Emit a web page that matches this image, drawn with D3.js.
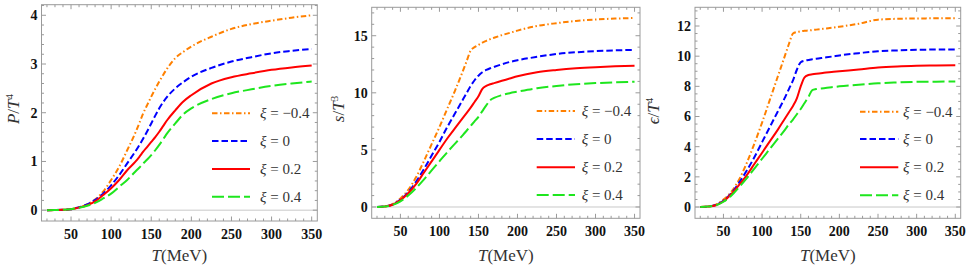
<!DOCTYPE html>
<html><head><meta charset="utf-8">
<script src="https://cdn.jsdelivr.net/npm/d3@7"></script>
<style>
html,body{margin:0;padding:0;background:#fff;}
svg{display:block;}
text{font-family:"Liberation Serif","Times New Roman",serif;}
</style></head>
<body>
<svg id="chart" width="969" height="277"></svg>
<script>
// ---------- DATA ----------
const temps = [20,30,40,50,60,70,80,90,100,110,120,130,135,140,145,150,155,160,165,170,180,190,200,225,250,275,300,325,350];
const seriesNames = ["−0.4","0","0.2","0.4"];

const pressure_m04 = [0,0.002,0.008,0.02,0.055,0.12,0.22,0.38,0.62,0.89,1.23,1.58,1.78,1.99,2.16,2.33,2.49,2.64,2.78,2.91,3.12,3.25,3.36,3.56,3.72,3.82,3.89,3.95,4.0];
const pressure_0   = [0,0.002,0.007,0.02,0.06,0.12,0.21,0.34,0.51,0.72,0.96,1.20,1.33,1.47,1.62,1.78,1.94,2.09,2.22,2.33,2.50,2.63,2.74,2.92,3.05,3.14,3.22,3.27,3.31];
const pressure_02  = [0,0.002,0.007,0.02,0.055,0.10,0.18,0.31,0.45,0.62,0.82,0.99,1.09,1.20,1.30,1.40,1.50,1.61,1.73,1.85,2.05,2.23,2.36,2.60,2.73,2.81,2.88,2.93,2.97];
const pressure_04  = [0,0.002,0.007,0.02,0.05,0.09,0.15,0.24,0.34,0.48,0.62,0.79,0.87,0.96,1.04,1.13,1.23,1.34,1.46,1.58,1.78,1.97,2.09,2.28,2.40,2.48,2.55,2.60,2.64];

const entropy_m04 = [0,0.05,0.25,0.75,1.5,2.6,4.0,5.5,7.0,8.6,10.2,11.9,12.8,13.7,14.0,14.2,14.4,14.55,14.7,14.82,15.05,15.25,15.45,15.85,16.1,16.3,16.42,16.5,16.55];
const entropy_0   = [0,0.05,0.22,0.65,1.3,2.2,3.3,4.5,5.7,7.0,8.2,9.4,10.0,10.6,11.1,11.5,11.8,12.0,12.15,12.27,12.5,12.7,12.85,13.15,13.4,13.55,13.65,13.72,13.75];
const entropy_02  = [0,0.05,0.2,0.6,1.2,2.0,3.0,4.0,5.0,6.0,6.9,7.8,8.25,8.7,9.2,9.7,10.35,10.6,10.75,10.85,11.05,11.25,11.45,11.8,12.0,12.15,12.25,12.32,12.37];
const entropy_04  = [0,0.04,0.18,0.5,1.0,1.65,2.4,3.2,4.0,4.8,5.55,6.3,6.7,7.1,7.5,7.9,8.4,8.9,9.35,9.55,9.8,9.97,10.1,10.4,10.6,10.75,10.85,10.92,10.97];

const energy_m04 = [0,0.03,0.15,0.5,1.0,1.8,2.9,4.2,5.6,7.1,8.6,10.1,10.85,11.5,11.6,11.65,11.68,11.7,11.73,11.76,11.82,11.88,11.95,12.15,12.42,12.48,12.5,12.51,12.52];
const energy_0   = [0,0.03,0.13,0.42,0.9,1.6,2.4,3.3,4.3,5.3,6.3,7.3,7.85,8.4,9.1,9.6,9.7,9.75,9.8,9.83,9.9,9.97,10.05,10.2,10.33,10.38,10.42,10.44,10.45];
const energy_02  = [0,0.03,0.12,0.38,0.85,1.45,2.1,2.85,3.6,4.35,5.1,5.9,6.3,6.7,7.2,8.0,8.6,8.75,8.8,8.84,8.9,8.95,9.0,9.12,9.25,9.32,9.36,9.38,9.4];
const energy_04  = [0,0.03,0.11,0.35,0.75,1.3,1.9,2.55,3.2,3.85,4.5,5.15,5.5,5.8,6.15,6.5,6.9,7.3,7.75,7.82,7.88,7.94,8.0,8.1,8.2,8.26,8.3,8.31,8.32];

const xTicks = [50,100,150,200,250,300,350];
const yTicksP = [0,1,2,3,4];
const yTicksS = [0,5,10,15];
const yTicksE = [0,2,4,6,8,10,12];

// ---------- STYLE ----------
const colors = ["#ff8000","#0000ff","#ff0000","#1ee61e"];
const dashes = ["5.5,2.5,1.5,2.5","6.5,3","","12,4"];

const panels = [
  {series:[pressure_m04,pressure_0,pressure_02,pressure_04], ticks:yTicksP, minor:0.2,
   frame:{x0:41.5,x1:317.3,y0:4.7,y1:221}, ydom:[-0.222,4.217],
   ylab:{x:13,y:109,parts:[["P","italic"],["/",""],["T","italic"],["4","sup"]]},
   leg:{x0:212,x1:250,tx:260,ys:[113.3,141,169,196.7]}},
  {series:[entropy_m04,entropy_0,entropy_02,entropy_04], ticks:yTicksS, minor:1,
   frame:{x0:371.7,x1:640,y0:7.3,y1:218.3}, ydom:[-0.99,17.49],
   ylab:{x:338,y:109,parts:[["s","italic"],["/",""],["T","italic"],["3","sup"]]},
   leg:{x0:536.7,x1:575,tx:581.7,ys:[111,139,167.3,195]}},
  {series:[energy_m04,energy_0,energy_02,energy_04], ticks:yTicksE, minor:0.5,
   frame:{x0:695,x1:960.7,y0:7.3,y1:218.3}, ydom:[-0.748,13.24],
   ylab:{x:653,y:111,parts:[["ϵ","italic"],["/",""],["T","italic"],["4","sup"]]},
   leg:{x0:860,x1:898.3,tx:903,ys:[111.7,139,167.3,195.3]}}
];

const svg = d3.select("#chart");
svg.append("rect").attr("width",969).attr("height",277).attr("fill","#fff");

const frameColor = "#9a9a9a";

panels.forEach(p => {
  const f = p.frame;
  const x = d3.scaleLinear().domain([13.2,357]).range([f.x0,f.x1]);
  const y = d3.scaleLinear().domain(p.ydom).range([f.y1,f.y0]);
  const g = svg.append("g");

  // zero axis line
  g.append("line").attr("x1",f.x0).attr("x2",f.x1).attr("y1",y(0)).attr("y2",y(0))
    .attr("stroke","#c8c8c8").attr("stroke-width",1);

  // curves
  p.series.forEach((vals,i) => {
    const pts = temps.map((t,k)=>[t,vals[k]]);
    g.append("path").datum(pts)
      .attr("d", d3.line().x(d=>x(d[0])).y(d=>y(d[1])).curve(d3.curveMonotoneX))
      .attr("fill","none").attr("stroke",colors[i]).attr("stroke-width",2)
      .attr("stroke-dasharray",dashes[i] || null);
  });

  // frame
  g.append("rect").attr("x",f.x0).attr("y",f.y0).attr("width",f.x1-f.x0).attr("height",f.y1-f.y0)
    .attr("fill","none").attr("stroke",frameColor).attr("stroke-width",1);

  // minor x ticks
  const minorX = d3.range(20,351,10);
  minorX.forEach(t => {
    const major = xTicks.includes(t);
    const L = major ? 4.5 : 2.5;
    g.append("line").attr("x1",x(t)).attr("x2",x(t)).attr("y1",f.y1).attr("y2",f.y1-L).attr("stroke",frameColor);
    g.append("line").attr("x1",x(t)).attr("x2",x(t)).attr("y1",f.y0).attr("y2",f.y0+L).attr("stroke",frameColor);
  });
  // y ticks
  const ymaxT = p.ydom[1];
  const ns = Math.floor((ymaxT)/p.minor+1e-6);
  for (let k=0;k<=ns;k++){
    const v = k*p.minor;
    const major = p.ticks.some(t=>Math.abs(t-v)<1e-6);
    const L = major ? 4.5 : 2.5;
    g.append("line").attr("x1",f.x0).attr("x2",f.x0+L).attr("y1",y(v)).attr("y2",y(v)).attr("stroke",frameColor);
    g.append("line").attr("x1",f.x1).attr("x2",f.x1-L).attr("y1",y(v)).attr("y2",y(v)).attr("stroke",frameColor);
  }

  // x tick labels
  xTicks.forEach(t => {
    g.append("text").attr("x",x(t)).attr("y",f.y1+17.5).attr("text-anchor","middle")
      .attr("font-size",14).attr("font-weight","bold").attr("fill","#111").text(t);
  });
  // y tick labels
  p.ticks.forEach(t => {
    g.append("text").attr("x",f.x0-4).attr("y",y(t)).attr("dy","0.35em").attr("text-anchor","end")
      .attr("font-size",14).attr("font-weight","bold").attr("fill","#111").text(t);
  });

  // x axis label
  const xl = g.append("text").attr("x",(f.x0+f.x1)/2).attr("y",261).attr("text-anchor","middle")
    .attr("font-size",17).attr("fill","#333");
  xl.append("tspan").attr("font-style","italic").text("T");
  xl.append("tspan").text("(MeV)");

  // y axis label
  const yl = g.append("text").attr("transform",`translate(${p.ylab.x},${p.ylab.y}) rotate(-90)`)
    .attr("text-anchor","middle").attr("dy","0.35em").attr("font-size",17).attr("fill","#333");
  p.ylab.parts.forEach(([s,st]) => {
    const ts = yl.append("tspan").text(s);
    if (st==="italic") ts.attr("font-style","italic");
    if (st==="sup") ts.attr("font-size",11).attr("baseline-shift","super");
  });

  // legend
  seriesNames.forEach((nm,i) => {
    const ly = p.leg.ys[i];
    g.append("line").attr("x1",p.leg.x0).attr("x2",p.leg.x1).attr("y1",ly).attr("y2",ly)
      .attr("stroke",colors[i]).attr("stroke-width",2).attr("stroke-dasharray",dashes[i]||null);
    const t = g.append("text").attr("x",p.leg.tx).attr("y",ly).attr("dy","0.33em")
      .attr("font-size",15).attr("fill","#333");
    t.append("tspan").attr("font-style","italic").text("ξ");
    t.append("tspan").text(" = " + nm);
  });
});
</script>
</body></html>
